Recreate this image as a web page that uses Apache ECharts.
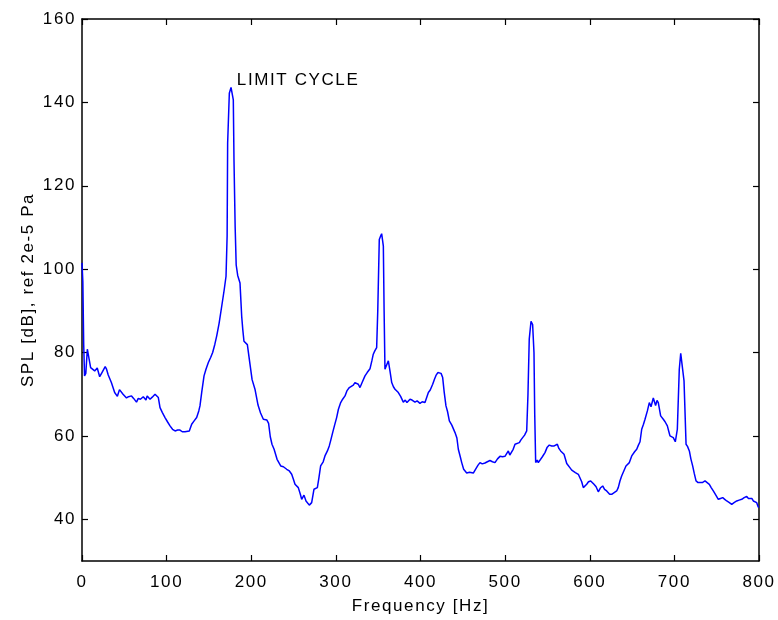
<!DOCTYPE html>
<html>
<head>
<meta charset="utf-8">
<script src="https://cdn.jsdelivr.net/npm/echarts@6/dist/echarts.min.js"></script>
<style>
html,body{margin:0;padding:0;background:#fff;}
#chart{width:778px;height:620px;}
</style>
</head>
<body>
<div id="chart"></div>
<script>
// Frequency [Hz] values and SPL [dB] values
const freq = [0,1,2,3,4.5,6.3,8.3,10.2,12.5,15,18,20.9,23.6,27.4,29,31,34.7,38.6,41.8,44.3,48.5,52.6,55,58.5,61,64.4,66.5,69,72.4,75.6,77,80.4,83,86.3,90.2,92.2,95,98.1,101,104,107,110,113,115.8,118.5,121.7,124,126.8,129.6,132.5,135.5,138,139.4,141.5,144.2,146.5,149.3,152,154.4,157,159.2,162,165.1,168,170.2,171.5,172.1,174.1,176.1,178.8,179.6,181,182.2,184,186.7,188.7,190,191.4,195.4,198.5,201,204.4,208,211,214.3,218.5,220.5,222.5,224.5,227,230.5,234.8,238,241.9,245,247.8,250,251.7,255.6,258,259.6,262.3,264.7,266.5,268.6,271.4,274.1,278.1,280,282,285,287.1,290,292.2,294,296.2,298.5,300.9,303,305.7,308,310.8,313,315.9,318,320.6,322.5,324.6,326.5,328.5,331,334.4,337,340.3,342.5,344.2,346,348.2,349.5,351.3,353,354.1,356.1,357,358,360,362,364,366,368,369.9,372,373.8,376.5,379.7,382,384,387.6,390,393.5,396,399.4,402,405.3,407.5,409.3,411.5,414.4,416.5,418.3,420.5,422.3,424.3,426.2,428,430.1,432,434.1,437,440.8,443,444.7,447,448.7,451,454.6,458,462.4,465,468,470.3,473,476.2,479,482.1,485,488,491,493.9,497,499.8,502,503.8,505.5,507.7,509.5,511.7,514,516.8,518.5,520.7,523,525.5,527,528.5,530.6,532.5,534.1,535,536.1,538,539.2,541.5,544,547.1,549.5,552.2,555,558,561.7,563.5,565.6,569.6,572.8,574.7,576.5,578.7,581,583,586.5,588.5,590.5,592.4,594.5,596.4,598.5,601.1,603,605,607.5,610.1,612.5,615.3,617.5,620,622.3,623.5,625.9,628,631.8,633.7,635.7,637.7,639.7,642.8,645,646.8,649.6,650.7,653,655.5,657.5,659.4,661.4,663.5,665.3,668.1,670.4,672.4,675.1,677.8,679.5,681,683.8,686.9,689,691.7,693.5,694.8,696.8,698.7,701.1,703.5,705.8,707.5,709.4,711.4,713.8,715.5,717.7,719.5,721.6,723.5,725.6,728,730.3,733,736.2,738.5,741.3,743.5,746,749,751.9,754.5,757.1,759.5,761.9,765,767.8,770.5,773.7,776.5,779.6,782.5,785.5,787.5,789.4,791.5,793.3,795.5,797.3,799.2,800];
const spl = [101.5,97,82,74.4,75.0,80.8,80.8,76.4,76.0,75.6,76.3,74.2,75.2,76.6,76.0,74.6,72.8,70.4,69.5,71.1,70.0,69.1,69.4,69.6,69.0,68.1,69.0,68.8,69.4,68.6,69.6,68.8,69.3,70.0,69.2,66.8,65.6,64.4,63.4,62.4,61.6,61.2,61.4,61.4,61.0,61.0,61.4,61.2,62.8,63.6,64.4,66.0,67.2,70.5,74.4,76.0,77.6,78.8,80.0,82.0,84.0,87.0,91.1,95.0,98.3,108,130.2,142.2,143.6,140.6,126.2,110,101.0,98.5,96.7,88.7,85.5,82.7,81.9,77.2,73.5,71.2,67.4,65.5,64.0,63.8,63.0,59.8,58.0,56.8,54.4,52.8,52.6,52.0,51.6,50.8,49.5,48.4,47.6,46.0,44.8,45.8,44.4,44.6,43.4,44.0,47.2,47.6,50.0,52.8,53.8,55.2,56.4,57.6,59.0,60.8,62.6,64.4,66.4,68.0,68.8,69.6,70.8,71.6,72.0,72.2,72.8,73.2,72.4,71.6,72.8,74.4,75.2,76.1,78.0,79.6,80.4,81.2,90,107.1,108.0,108.5,105.5,90,76.0,77.0,78.0,75.5,72.8,71.8,71.2,71.4,70.4,69.5,68.1,68.6,68.0,68.8,68.6,68.1,68.4,67.8,68.2,68.0,68.4,70.4,71.0,72.4,73.6,74.5,75.2,75.6,75.0,74.0,70.5,67.2,65.8,63.6,62.6,60.8,59.5,56.8,55.0,53.6,52.0,51.1,51.3,51.1,52.0,53.0,53.6,53.3,53.5,53.8,54.1,53.8,53.6,54.5,55.1,55.0,55.1,55.4,56.4,55.4,55.6,56.8,58.0,58.0,58.4,59.0,59.6,60.2,61.2,70,83.2,87.5,86.7,80.0,65,53.6,54.2,53.6,53.4,55.0,56.0,57.2,57.8,57.6,57.6,58.0,57.0,56.4,55.6,53.4,53.6,52.4,51.8,51.4,51.2,50.8,51.1,49.0,47.6,48.0,48.4,49.0,49.2,48.8,48.4,47.8,46.6,47.5,48.0,47.2,46.8,47.2,46.0,46.0,46.4,46.8,47.6,49.2,50.4,50.4,52.8,53.2,53.6,55.2,55.6,56.2,56.8,57.8,58.6,61.6,62.8,64.0,66.0,68.0,67.0,69.1,67.3,68.5,68.0,64.8,64.0,63.4,62.4,61.0,60.0,59.9,59.6,58.6,61.6,76.0,79.8,79.6,73.2,58.0,57.5,56.4,54.5,52.8,51.0,49.2,48.8,48.4,48.8,49.2,48.8,48.4,47.6,46.8,45.8,44.8,45.0,45.2,44.8,44.4,44.0,43.6,44.0,44.4,44.6,44.8,45.2,45.5,45.0,44.7,45.0,44.4,44.4,44.0,42.9,43.0];
const yTicks = [40, 60, 80, 100, 120, 140, 160];
const xTicks = [0, 100, 200, 300, 400, 500, 600, 700, 800];
const annotation = { text: 'LIMIT CYCLE', freq: 183, spl: 145.2 };
const xTitle = 'Frequency [Hz]';
const yTitle = 'SPL [dB], ref 2e-5 Pa';

const FONT = 'Liberation Sans';
const data = freq.map((f, i) => [f, spl[i]]);
const lineStyle = { color: '#000', width: 1.5 };
const tickStyle = { show: true, inside: true, length: 6, lineStyle: { color: '#000', width: 1.2 } };

// the reference text is set with slightly open tracking
(function () {
  const proto = window.CanvasRenderingContext2D && CanvasRenderingContext2D.prototype;
  if (proto && 'letterSpacing' in proto) {
    const origFill = proto.fillText;
    proto.fillText = function () {
      this.letterSpacing = '1.6px';
      return origFill.apply(this, arguments);
    };
  }
})();

const chart = echarts.init(document.getElementById('chart'), null, { renderer: 'canvas' });
chart.setOption({
  animation: false,
  backgroundColor: '#fff',
  grid: { left: 82, right: 19, top: 19, bottom: 58, containLabel: false },
  xAxis: [
    {
      type: 'value', min: 0, max: 800, interval: 100, position: 'bottom',
      axisLine: { show: true, onZero: false, lineStyle },
      axisTick: tickStyle,
      splitLine: { show: false },
      axisLabel: { color: '#000', fontFamily: FONT, fontSize: 17, margin: 13 },
      name: xTitle, nameLocation: 'middle', nameGap: 37,
      nameTextStyle: { color: '#000', fontFamily: FONT, fontSize: 17 }
    },
    {
      type: 'value', min: 0, max: 800, interval: 100, position: 'top',
      axisLine: { show: true, onZero: false, lineStyle },
      axisTick: tickStyle,
      splitLine: { show: false },
      axisLabel: { show: false }
    }
  ],
  yAxis: [
    {
      type: 'value', min: 30, max: 160, position: 'left',
      axisLine: { show: true, onZero: false, lineStyle },
      axisTick: Object.assign({ customValues: yTicks }, tickStyle),
      splitLine: { show: false },
      axisLabel: { customValues: yTicks, color: '#000', fontFamily: FONT, fontSize: 17, margin: 6 },
      name: yTitle, nameLocation: 'middle', nameGap: 35,
      nameTextStyle: { color: '#000', fontFamily: FONT, fontSize: 17 }
    },
    {
      type: 'value', min: 30, max: 160, position: 'right',
      axisLine: { show: true, onZero: false, lineStyle },
      axisTick: Object.assign({ customValues: yTicks }, tickStyle),
      splitLine: { show: false },
      axisLabel: { show: false }
    }
  ],
  series: [{
    type: 'line',
    data: data,
    xAxisIndex: 0, yAxisIndex: 0,
    showSymbol: false,
    symbol: 'none',
    lineStyle: { color: '#0000ff', width: 1.5 },
    markPoint: {
      symbol: 'circle', symbolSize: 0,
      data: [{ coord: [annotation.freq, annotation.spl], value: annotation.text }],
      label: {
        show: true, position: 'right', distance: 0,
        formatter: annotation.text,
        color: '#000', fontFamily: FONT, fontSize: 17
      }
    }
  }]
});
</script>
</body>
</html>
